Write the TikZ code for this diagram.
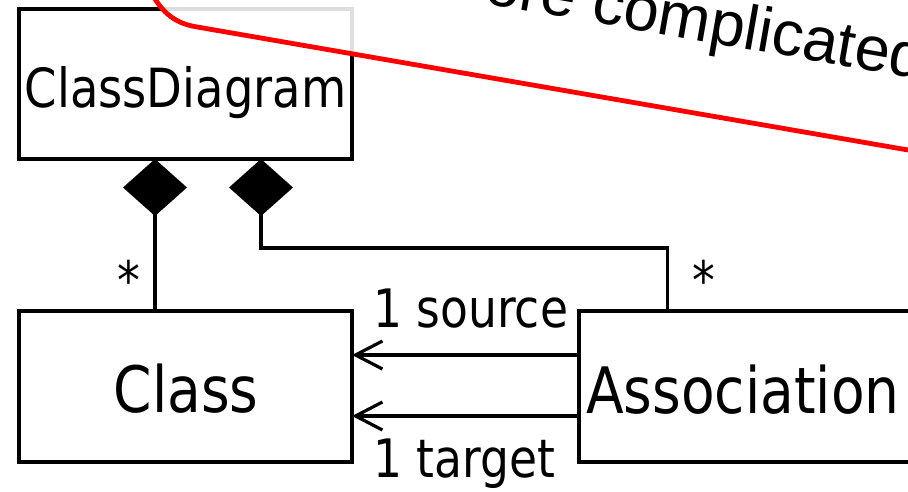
\documentclass[tikz,border=0pt]{standalone}
\usepackage{fontspec}
\setmainfont{DejaVu Sans}[FakeStretch=0.86]
\newfontfamily\notefont{Liberation Sans}
\usetikzlibrary{arrows.meta}

\begin{document}
\begin{tikzpicture}[x=1pt,y=-1pt,
  umlbox/.style={draw, line width=3.5pt, inner sep=0pt, outer sep=0pt, anchor=north west},
  boxtext/.style={inner sep=0pt, font=\fontsize{64}{64}\selectfont},
  smalltext/.style={inner sep=0pt, font=\fontsize{53}{53}\selectfont},
  comp/.style={line width=3.2pt, {Diamond[length=57pt,width=64pt]}-},
  nav/.style={line width=3.2pt, -{Straight Barb[length=27pt,width=28pt,line width=3.2pt]}},
  callout/.style={draw=red, line width=4.8pt},
  notetext/.style={inner sep=0pt, font=\notefont\fontsize{63}{63}\selectfont}]
\useasboundingbox (0,0) rectangle (908,491);
\clip (0,0) rectangle (908,491);

% class boxes
\node[umlbox, minimum width=333pt, minimum height=150pt] (cd) at (19,9) {};
\node[umlbox, minimum width=333pt, minimum height=151pt] (class) at (19,311) {};
\node[umlbox, minimum width=360pt, minimum height=151pt] (assoc) at (579,311) {};

\node[inner sep=0pt, anchor=base, font=\fontsize{54}{54}\selectfont] (cdT) at (185.5,107) {ClassDiagram};
\node[boxtext, anchor=base] (classT) at (186,412) {Class};
\node[boxtext, anchor=base west] (assocT) at (586,413) {Association};

% composition links
\draw[comp] ([xshift=136pt]cd.south west) -- ([xshift=136pt]class.north west);
\draw[comp] ([xshift=242pt]cd.south west) -- ++(0,89) -| ([xshift=88.5pt]assoc.north west);
\node[smalltext, anchor=base] (m1) at (128.5,299) {*};
\node[smalltext, anchor=base] (m2) at (703.5,299) {*};

% navigable associations
\draw[nav] ([yshift=31.5pt]assoc.west) -- ([yshift=31.5pt]class.east);
\draw[nav] ([yshift=-29.5pt]assoc.west) -- ([yshift=-29.5pt]class.east);
\node[smalltext, anchor=base west] (src) at (373,327) {1 source};
\node[smalltext, anchor=base west] (tgt) at (373,477) {1 target};

% translucent note callout
\fill[white, fill opacity=0.87] (140,-30) -- (150,-10)
  .. controls (160,10) and (173,22.8) .. (195,26.6)
  -- (1000,165.9) -- (1000,-30) -- cycle;
\draw[callout] (150,-10) .. controls (160,10) and (173,22.8) .. (195,26.6) -- (1000,165.9);
\node[notetext, rotate=-9.9, anchor=base west] (note) at (483,3) {ore complicated};
\end{tikzpicture}
\end{document}
